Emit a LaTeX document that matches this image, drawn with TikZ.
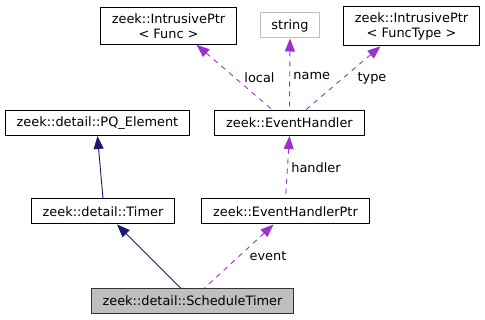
\documentclass[tikz,border=0pt]{standalone}
\usepackage{fontspec}
\setmainfont{DejaVu Sans}
\usetikzlibrary{arrows.meta}
\definecolor{inhcolor}{RGB}{25,25,112}
\definecolor{usecolor}{RGB}{154,50,205}
\definecolor{boxgray}{RGB}{191,191,191}

\begin{document}
\begin{tikzpicture}[x=1pt,y=-1pt,
  font=\fontsize{12.9}{15}\selectfont,
  cls/.style={draw=black,line width=1pt,fill=white,align=center,
    inner xsep=11.3pt,inner ysep=6pt,minimum height=25pt},
  ext/.style={cls,draw=boxgray},
  cur/.style={cls,fill=boxgray,draw=black!80},
  inh/.style={inhcolor,line width=0.9pt,{Triangle[length=13pt,width=10pt]}-},
  use/.style={usecolor,line width=0.9pt,dash pattern=on 5pt off 5pt,
    {Triangle[length=13pt,width=10pt]}-},
  lbl/.style={inner sep=0pt,text=black}]
  \useasboundingbox (0,0) rectangle (485,320);
  % class boxes
  \node[cls] (ipf) at (168.5,25.7) {zeek::IntrusivePtr\\< Func >};
  \node[ext] (str) at (290,25.5) {string};
  \node[cls] (ipft) at (411.5,26) {zeek::IntrusivePtr\\< FuncType >};
  \node[cls] (pq) at (97.5,123) {zeek::detail::PQ\_Element};
  \node[cls] (eh) at (289.5,123) {zeek::EventHandler};
  \node[cls] (timer) at (103,211.5) {zeek::detail::Timer};
  \node[cls] (ehp) at (285.5,211.5) {zeek::EventHandlerPtr};
  \node[cur] (sched) at (192.5,301) {zeek::detail::ScheduleTimer};
  % inheritance
  \draw[inh] (pq.south) -- (timer.north);
  \draw[inh] ([xshift=14pt]timer.south) -- ([xshift=-12pt]sched.north);
  % members
  \draw[use] ([xshift=-12pt]ehp.south) -- node[lbl,xshift=29pt] (levent) {event}
    ([xshift=12pt]sched.north);
  \draw[use] (eh.south) -- node[lbl,xshift=28.5pt] (lhandler) {handler} (ehp.north);
  \draw[use] ([xshift=28pt]ipf.south) -- node[lbl,xshift=25pt] (llocal) {local}
    ([xshift=-17pt]eh.north);
  \draw[use] (str.south) -- node[lbl,xshift=22pt,yshift=-2pt] (lname) {name} (eh.north);
  \draw[use] ([xshift=-31pt]ipft.south) -- node[lbl,xshift=29pt] (ltype) {type}
    ([xshift=16pt]eh.north);
\end{tikzpicture}
\end{document}
